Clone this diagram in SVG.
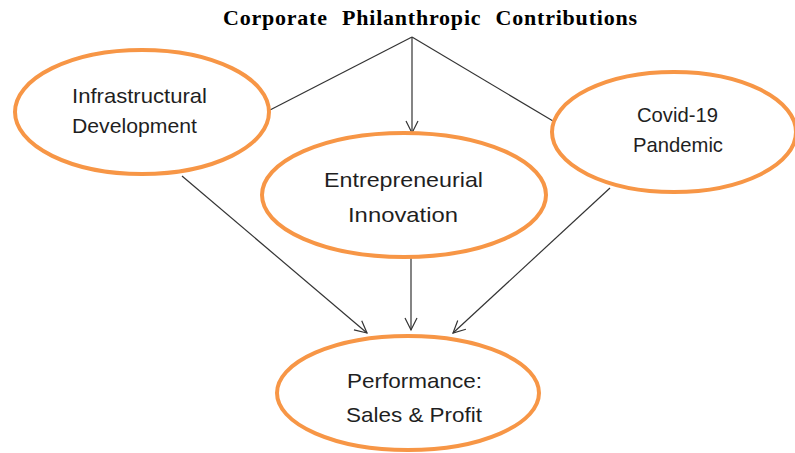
<svg xmlns="http://www.w3.org/2000/svg" width="795" height="453" viewBox="0 0 795 453">
<style>
.node ellipse{fill:#fff;stroke:#F79646;stroke-width:4}
.node text{font-family:"Liberation Sans",Arial,sans-serif;font-size:21px;fill:#1f1f1f;text-anchor:start}
.title{font-family:"Liberation Serif","Times New Roman",serif;font-weight:bold;font-size:22px;fill:#000}
#connectors line{stroke:#333;stroke-width:1.2;fill:none}
</style>
<defs>
<marker id="arr" markerUnits="userSpaceOnUse" markerWidth="16" markerHeight="14" refX="13" refY="7" orient="auto">
<path d="M1,1 L13,7 L1,13" fill="none" stroke="#333" stroke-width="1.2"/>
</marker>
</defs>
<rect width="795" height="453" fill="#fff"/>
<text class="title" x="223" y="25" textLength="414" lengthAdjust="spacing" word-spacing="8">Corporate Philanthropic Contributions</text>
<g id="connectors">
<line x1="412" y1="37" x2="270" y2="110"/>
<line x1="412" y1="37" x2="553" y2="121"/>
<line x1="412" y1="37" x2="412" y2="133" marker-end="url(#arr)"/>
<line x1="182" y1="176" x2="367" y2="333" marker-end="url(#arr)"/>
<line x1="411" y1="258" x2="411" y2="330" marker-end="url(#arr)"/>
<line x1="610" y1="188" x2="453" y2="333" marker-end="url(#arr)"/>
</g>
<g id="infrastructural" class="node">
<ellipse cx="142" cy="112" rx="127" ry="62"/>
<text x="72" y="103" textLength="135" lengthAdjust="spacingAndGlyphs">Infrastructural</text>
<text x="72" y="133" textLength="125" lengthAdjust="spacingAndGlyphs">Development</text>
</g>
<g id="covid" class="node">
<ellipse cx="674" cy="132" rx="122" ry="60"/>
<text x="637" y="122" textLength="81" lengthAdjust="spacingAndGlyphs">Covid-19</text>
<text x="633" y="152" textLength="90" lengthAdjust="spacingAndGlyphs">Pandemic</text>
</g>
<g id="entrepreneurial" class="node">
<ellipse cx="404" cy="195" rx="142" ry="62"/>
<text x="324" y="187" textLength="159" lengthAdjust="spacingAndGlyphs">Entrepreneurial</text>
<text x="348" y="222" textLength="110" lengthAdjust="spacingAndGlyphs">Innovation</text>
</g>
<g id="performance" class="node">
<ellipse cx="408" cy="393" rx="131" ry="57"/>
<text x="347" y="388" textLength="135" lengthAdjust="spacingAndGlyphs">Performance:</text>
<text x="346" y="422" textLength="136" lengthAdjust="spacingAndGlyphs">Sales &amp; Profit</text>
</g>
</svg>
